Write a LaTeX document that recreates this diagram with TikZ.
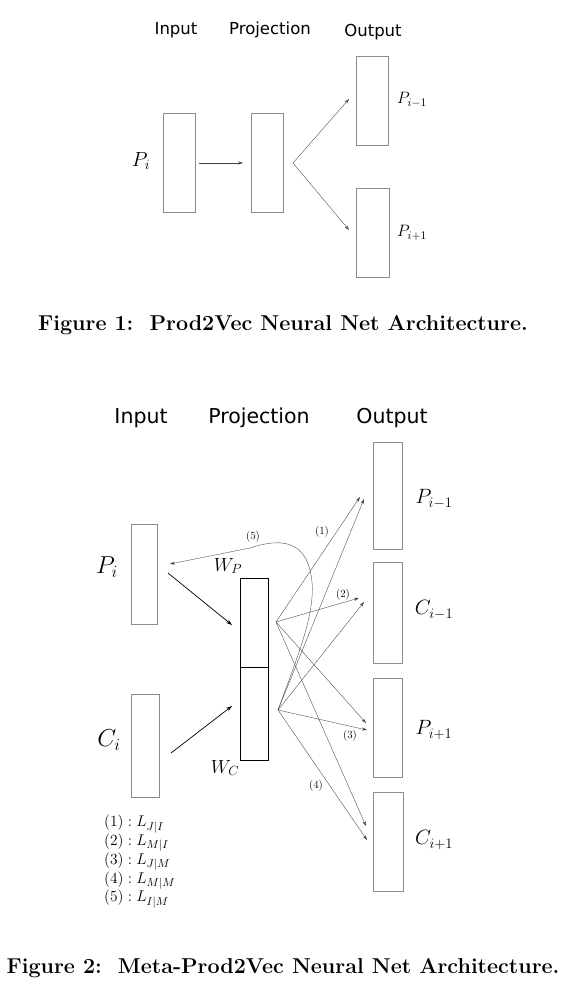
\RequirePackage{fix-cm}
\documentclass[tikz,border=0pt]{standalone}
\usepackage{fontspec}
\newfontfamily\hdfont{DejaVu Sans}
\usetikzlibrary{arrows.meta}
\tikzset{
  box/.style={draw=black!45, line width=0.6pt, inner sep=0pt, outer sep=0pt},
  projbox/.style={draw=black, line width=0.9pt, inner sep=0pt, outer sep=0pt},
  thin arrow/.style={draw=black!75, line width=0.35pt, -{Stealth[length=5pt,width=3pt]}},
  thick arrow/.style={draw=black, line width=0.7pt, -{Stealth[length=6pt,width=4pt]}},
  hdA/.style={font=\hdfont\fontsize{16.5}{18}\selectfont},
  hdB/.style={font=\hdfont\fontsize{20.5}{22}\selectfont},
  captext/.style={font=\bfseries\fontsize{21.5}{24}\selectfont},
  lbl/.style={font=\fontsize{11}{12}\selectfont, inner sep=1pt},
}
\begin{document}
\begin{tikzpicture}[x=1pt,y=-1pt]
\useasboundingbox (0,0) rectangle (568,994);
% ---------------- Figure 1 ----------------
\node[hdA] (h1a) at (176,30) {Input};
\node[hdA] (h1b) at (270,30) {Projection};
\node[hdA] (h1c) at (373,32) {Output};
\node[box, minimum width=32pt, minimum height=99pt] (in1) at (179,162.5) {};
\node[box, minimum width=32pt, minimum height=99pt] (pr1) at (267,162.5) {};
\node[box, minimum width=32pt, minimum height=89pt] (o1a) at (372,100.5) {};
\node[box, minimum width=33pt, minimum height=89pt] (o1b) at (372.5,232.5) {};
\node[font=\fontsize{20.5}{22}\selectfont] (l1pi) at (141,161) {$P_i$};
\node[font=\fontsize{16.5}{18}\selectfont] (l1pa) at (412,100) {$P_{i-1}$};
\node[font=\fontsize{16.5}{18}\selectfont] (l1pb) at (412,233) {$P_{i+1}$};
\coordinate (b1) at (293,163);
\coordinate (t1a) at (349,99);
\coordinate (t1b) at (349,230);
\draw[thin arrow, shorten <=4pt, shorten >=8pt] (in1.east |- b1) -- (pr1.west |- b1);
\draw[thin arrow] (b1) -- (t1a);
\draw[thin arrow] (b1) -- (t1b);
\node[captext] (cap1) at (283,325) {Figure 1:\ \ Prod2Vec Neural Net Architecture.};
% ---------------- Figure 2 ----------------
\node[hdB] (h2a) at (141,418) {Input};
\node[hdB] (h2b) at (259,418) {Projection};
\node[hdB] (h2c) at (392,418) {Output};
\node[box, minimum width=26pt, minimum height=100pt] (pi) at (144,574) {};
\node[box, minimum width=28pt, minimum height=103pt] (ci) at (145,745.5) {};
\node[projbox, minimum width=28pt, minimum height=89pt] (wp) at (254,622.5) {};
\node[projbox, minimum width=28pt, minimum height=93pt] (wc) at (254,713.5) {};
\node[box, minimum width=29pt, minimum height=107pt] (op1) at (387.5,495.5) {};
\node[box, minimum width=29pt, minimum height=101pt] (oc1) at (387.5,612.5) {};
\node[box, minimum width=29pt, minimum height=99pt] (op2) at (387.5,727.5) {};
\node[box, minimum width=30pt, minimum height=99pt] (oc2) at (388,841.5) {};
\node[font=\fontsize{24.5}{26}\selectfont] (lpi) at (107,567) {$P_i$};
\node[font=\fontsize{24.5}{26}\selectfont] (lci) at (109,740) {$C_i$};
\node[font=\fontsize{19}{20}\selectfont] (lwp) at (228,566) {$W_P$};
\node[font=\fontsize{19}{20}\selectfont] (lwc) at (225,768) {$W_C$};
\node[font=\fontsize{20.7}{22}\selectfont] (lop1) at (434,499) {$P_{i-1}$};
\node[font=\fontsize{20.7}{22}\selectfont] (loc1) at (434,610) {$C_{i-1}$};
\node[font=\fontsize{20.7}{22}\selectfont] (lop2) at (434,730) {$P_{i+1}$};
\node[font=\fontsize{20.7}{22}\selectfont] (loc2) at (434,840) {$C_{i+1}$};
% input arrows
\coordinate (spi) at (168,573);
\coordinate (tpi) at (232,625);
\coordinate (sci) at (171,753);
\coordinate (tci) at (232,706);
\draw[thick arrow] (spi) -- (tpi);
\draw[thick arrow] (sci) -- (tci);
% branch points
\coordinate (U) at (276,622);
\coordinate (L) at (278,710);
\coordinate (tu1) at (360,497);
\coordinate (tu2) at (359,598);
\coordinate (tu3) at (366,723);
\coordinate (tu4) at (366,826);
\coordinate (tl1) at (364,499);
\coordinate (tl2) at (364,602);
\coordinate (tl3) at (367,730);
\coordinate (tl4) at (367,840);
\coordinate (t5) at (170,564);
\draw[thin arrow] (U) -- (tu1);
\draw[thin arrow] (U) -- (tu2);
\draw[thin arrow] (U) -- (tu3);
\draw[thin arrow] (U) -- (tu4);
\draw[thin arrow] (L) -- (tl1);
\draw[thin arrow] (L) -- (tl2);
\draw[thin arrow] (L) -- (tl3);
\draw[thin arrow] (L) -- (tl4);
\draw[thin arrow] (L) .. controls (296,660) and (318,610) .. (311,575)
   .. controls (305,540) and (280,538) .. (250,548) -- (t5);
\node[lbl] (n1) at (322,532) {(1)};
\node[lbl] (n2) at (343,595) {(2)};
\node[lbl] (n3) at (350,736) {(3)};
\node[lbl] (n4) at (316,786) {(4)};
\node[lbl] (n5) at (253,537) {(5)};
% legend
\def\defaultscriptratio{.74}
\node[anchor=north west, align=left, inner sep=0pt, font=\fontsize{15.5}{17}\selectfont] (leg) at (104,815)
  {$(1):L_{J|I}$\\ $(2):L_{M|I}$\\ $(3):L_{J|M}$\\ $(4):L_{M|M}$\\ $(5):L_{I|M}$};
\node[captext] (cap2) at (283,968) {Figure 2:\ \ Meta-Prod2Vec Neural Net Architecture.};
\end{tikzpicture}
\end{document}
